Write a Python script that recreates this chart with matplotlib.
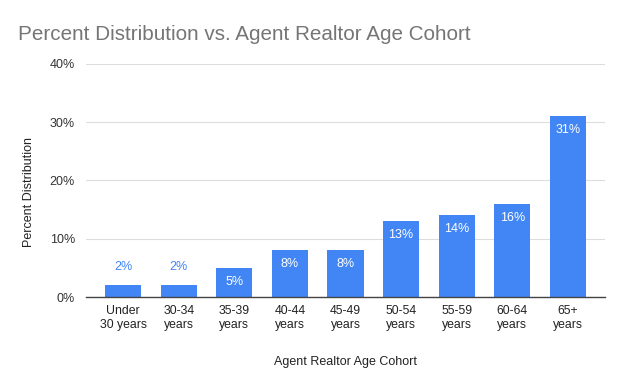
import matplotlib
matplotlib.use("Agg")
import matplotlib.pyplot as plt

categories = ["Under\n30 years", "30-34\nyears", "35-39\nyears", "40-44\nyears", "45-49\nyears",
              "50-54\nyears", "55-59\nyears", "60-64\nyears", "65+\nyears"]
values = [2, 2, 5, 8, 8, 13, 14, 16, 31]
yticks = [0, 10, 20, 30, 40]

plt.rcParams['font.family'] = ['Liberation Sans', 'DejaVu Sans']
fig = plt.figure(figsize=(6.24, 3.86), dpi=100)
ax = fig.add_axes([86/624, 1-297/386, (605-86)/624, (297-64)/386])

blue = "#4285F4"
x = list(range(len(values)))
bars = ax.bar(x, values, width=0.65, color=blue, zorder=3)
ax.set_xlim(-0.67, len(values) - 1 + 0.67)
ax.set_ylim(0, 40)
ax.set_yticks(yticks)
ax.set_yticklabels([f"{v}%" for v in yticks], fontsize=9, color="#333333")
ax.set_xticks(x)
ax.set_xticklabels(categories, fontsize=8.8, color="#222222", linespacing=1.2)
ax.tick_params(axis='both', length=0, pad=6)
ax.tick_params(axis='y', pad=8)
ax.grid(axis='y', color="#dddddd", linewidth=0.8, zorder=0)
for s in ['top', 'right', 'left']:
    ax.spines[s].set_visible(False)
ax.spines['bottom'].set_color("#444444")
ax.spines['bottom'].set_linewidth(1.0)
ax.spines['bottom'].set_zorder(4)

for xi, v in zip(x, values):
    if v >= 4:
        ax.annotate(f"{v}%", (xi, v), xytext=(0, -14), textcoords='offset pixels',
                    ha='center', va='center', color='white', fontsize=9)
    else:
        ax.annotate(f"{v}%", (xi, v), xytext=(0, 18), textcoords='offset pixels',
                    ha='center', va='center', color=blue, fontsize=9)

ax.set_ylabel("Percent Distribution", fontsize=9, color="#222222", labelpad=12)
ax.yaxis.set_label_coords(-0.098, 0.45)
ax.set_xlabel("Agent Realtor Age Cohort", fontsize=9, color="#222222", labelpad=18)
fig.text(18/624, 1-34/386, "Percent Distribution vs. Agent Realtor Age Cohort",
         fontsize=14.9, color="#757575", ha='left', va='center')

fig.savefig("out.png", dpi=100, facecolor='white')
